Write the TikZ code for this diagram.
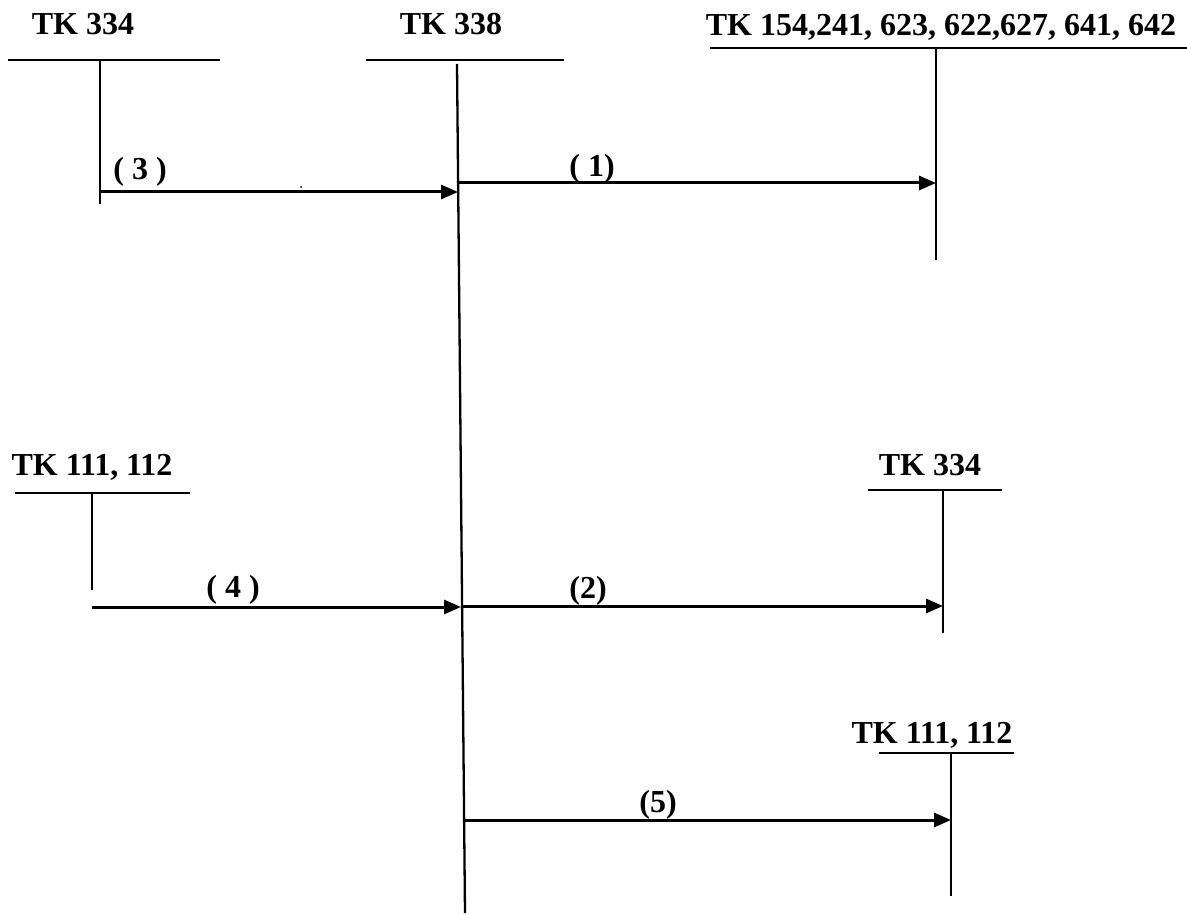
\documentclass[tikz,border=0pt]{standalone}
\usepackage{fontspec}
\setmainfont{Liberation Serif}
\usetikzlibrary{arrows.meta}
\begin{document}
\begin{tikzpicture}[x=1pt,y=-1pt,
  title/.style={font=\fontsize{32}{35}\selectfont\bfseries, anchor=base, inner sep=0pt},
  lbl/.style={font=\fontsize{32}{35}\selectfont\bfseries, anchor=base, inner sep=0pt},
  acc/.style={line width=2.3pt},
  flow/.style={line width=3pt, -{Triangle[length=17pt,width=14pt]}}]
\useasboundingbox (0,0) rectangle (1187,915);

% titles
\node[title] (tA) at (83,35) {TK 334};
\node[title] (tB) at (451,35) {TK 338};
\node[title] (tC) at (941,36) {TK 154,241, 623, 622,627, 641, 642};
\node[title] (tD) at (92,475) {TK 111, 112};
\node[title] (tE) at (930,475) {TK 334};
\node[title] (tF) at (932,743) {TK 111, 112};

% T-account A (TK 334, top left)
\coordinate (aL) at (8,60); \coordinate (aR) at (220,60);
\coordinate (aT) at (100,60); \coordinate (aB) at (100,204);
\draw[acc] (aL) -- (aR); \draw[acc] (aT) -- (aB);

% T-account B (TK 338)
\coordinate (bL) at (366,60); \coordinate (bR) at (564,60);
\coordinate (bT) at (457,64); \coordinate (bB) at (465,913);
\draw[acc] (bL) -- (bR); \draw[acc] (bT) -- (bB);

% T-account C (TK 154...)
\coordinate (cL) at (710,48); \coordinate (cR) at (1187,48);
\coordinate (cT) at (936,48); \coordinate (cB) at (936,260);
\draw[acc] (cL) -- (cR); \draw[acc] (cT) -- (cB);

% T-account D (TK 111, 112 left)
\coordinate (dL) at (15,493); \coordinate (dR) at (190,493);
\coordinate (dT) at (92,493); \coordinate (dB) at (92,590);
\draw[acc] (dL) -- (dR); \draw[acc] (dT) -- (dB);

% T-account E (TK 334 right)
\coordinate (eL) at (868,490); \coordinate (eR) at (1002,490);
\coordinate (eT) at (943,490); \coordinate (eB) at (943,633);
\draw[acc] (eL) -- (eR); \draw[acc] (eT) -- (eB);

% T-account F (TK 111, 112 bottom right)
\coordinate (fL) at (879,753); \coordinate (fR) at (1014,753);
\coordinate (fT) at (951,753); \coordinate (fB) at (951,896);
\draw[acc] (fL) -- (fR); \draw[acc] (fT) -- (fB);

% flows
\coordinate (s3) at (100,192); \coordinate (e3) at (458,192);
\coordinate (s1) at (458,183); \coordinate (e1) at (936,183);
\coordinate (s4) at (92,607);  \coordinate (e4) at (461,607);
\coordinate (s2) at (461,606); \coordinate (e2) at (943,606);
\coordinate (s5) at (464,820); \coordinate (e5) at (951,820);
\draw[flow] (s3) -- (e3);
\draw[flow] (s1) -- (e1);
\draw[flow] (s4) -- (e4);
\draw[flow] (s2) -- (e2);
\draw[flow] (s5) -- (e5);

% labels
\node[lbl] (l3) at (140,180) {( 3 )};
\node[lbl] (l1) at (592,177) {( 1)};
\node[lbl] (l4) at (233,597) {( 4 )};
\node[lbl] (l2) at (588,598) {(2)};
\node[lbl] (l5) at (658,812) {(5)};

% stray dot
\fill (301,187) circle (1pt);
\end{tikzpicture}
\end{document}
